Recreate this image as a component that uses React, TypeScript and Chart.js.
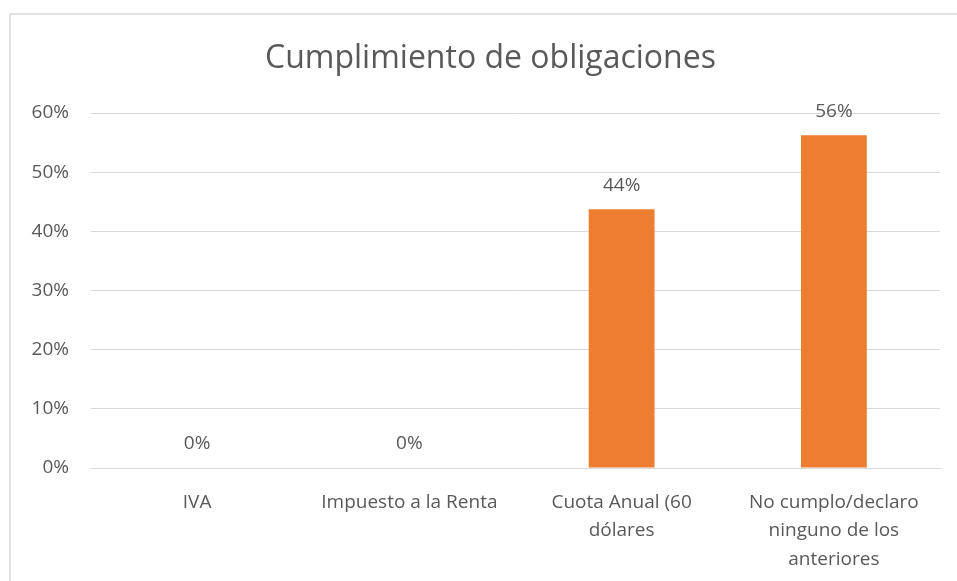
import React, { useEffect, useRef } from "react";
import { Chart, registerables } from "chart.js";

Chart.register(...registerables);

const TITLE = "Cumplimiento de obligaciones";
const CATEGORIES: (string | string[])[] = [
  "IVA",
  "Impuesto a la Renta",
  ["Cuota Anual (60", "dólares"],
  ["No cumplo/declaro", "ninguno de los", "anteriores"],
];
const VALUES = [0, 0, 43.75, 56.25];
const Y_TICKS = [0, 10, 20, 30, 40, 50, 60];

const TEXT = "#595959";
const GRID = "#d9d9d9";
const BAR = "#ED7D31";
const FONT = "'Open Sans', sans-serif";

// The original chart frame is wider than the visible picture (cropped on the right);
// the title is centred in that full frame.
const FRAME_LEFT = 10;
const FRAME_RIGHT = 971;

const frame = {
  id: "frame",
  beforeDraw(chart: any) {
    const ctx = chart.ctx;
    ctx.save();
    ctx.fillStyle = "#ffffff";
    ctx.fillRect(0, 0, chart.width, chart.height);
    ctx.strokeStyle = GRID;
    ctx.lineWidth = 1.5;
    ctx.beginPath();
    ctx.moveTo(FRAME_LEFT, chart.height + 5);
    ctx.lineTo(FRAME_LEFT, 14);
    ctx.lineTo(chart.width + 5, 14);
    ctx.stroke();
    ctx.restore();
  },
  afterDraw(chart: any) {
    const ctx = chart.ctx;
    ctx.save();
    ctx.font = `32px ${FONT}`;
    ctx.fillStyle = TEXT;
    ctx.textAlign = "center";
    ctx.textBaseline = "middle";
    ctx.fillText(TITLE, (FRAME_LEFT + FRAME_RIGHT) / 2, chart.chartArea.top - 54);
    ctx.restore();
  },
};

const valueLabels = {
  id: "valueLabels",
  afterDatasetsDraw(chart: any) {
    const ctx = chart.ctx;
    const meta = chart.getDatasetMeta(0);
    ctx.save();
    ctx.font = `19px ${FONT}`;
    ctx.fillStyle = TEXT;
    ctx.textAlign = "center";
    ctx.textBaseline = "middle";
    meta.data.forEach((el: any, i: number) => {
      const v = chart.data.datasets[0].data[i];
      ctx.fillText(Math.round(v) + "%", el.x, el.y - 24);
    });
    ctx.restore();
  },
};

export default function App() {
  const ref = useRef<HTMLCanvasElement>(null);
  useEffect(() => {
    document.body.style.margin = "0";
    document.body.style.overflow = "hidden";
    const chart = new Chart(ref.current!, {
      type: "bar",
      data: {
        labels: CATEGORIES,
        datasets: [
          {
            data: VALUES,
            backgroundColor: BAR,
            barPercentage: 0.62,
            categoryPercentage: 0.5,
          },
        ],
      },
      options: {
        responsive: false,
        animation: false,
        layout: { padding: { left: 9, right: 17, top: 113, bottom: 0 } },
        plugins: {
          legend: { display: false },
          tooltip: { enabled: false },
          title: { display: false },
        },
        scales: {
          x: {
            grid: { display: false },
            border: { display: true, color: GRID, width: 1 },
            ticks: {
              color: TEXT,
              font: { family: FONT, size: 19, lineHeight: 1.5 },
              padding: 12,
              maxRotation: 0,
              autoSkip: false,
            },
            afterFit(scale: any) {
              scale.height = 113;
            },
          },
          y: {
            min: 0,
            max: 60,
            afterBuildTicks(scale: any) {
              scale.ticks = Y_TICKS.map((v) => ({ value: v }));
            },
            grid: { color: GRID, lineWidth: 1, drawTicks: false },
            border: { display: false },
            ticks: {
              color: TEXT,
              font: { family: FONT, size: 19 },
              padding: 22,
              callback: (v: any) => v + "%",
            },
            afterFit(scale: any) {
              scale.width = 82;
            },
          },
        },
      },
      plugins: [frame, valueLabels],
    });
    return () => chart.destroy();
  }, []);
  return (
    <div style={{ position: "absolute", left: 0, top: 0, width: 957, height: 581 }}>
      <canvas ref={ref} width={957} height={581} />
    </div>
  );
}
